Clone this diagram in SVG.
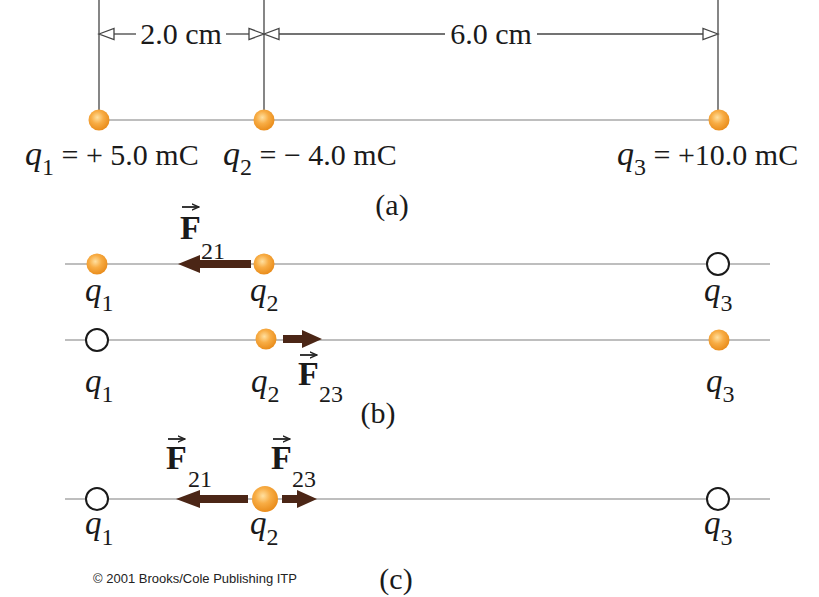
<svg xmlns="http://www.w3.org/2000/svg" width="819" height="597" viewBox="0 0 819 597">
<defs>
<radialGradient id="ball" cx="0.42" cy="0.38" r="0.65">
<stop offset="0" stop-color="#ffe0a0"/>
<stop offset="0.45" stop-color="#f8ad45"/>
<stop offset="1" stop-color="#e88a18"/>
</radialGradient>
<marker id="vec" viewBox="0 0 10 10" refX="9" refY="5" markerWidth="8" markerHeight="8" orient="auto" markerUnits="userSpaceOnUse">
<path d="M0,1 L9,5 L0,9" fill="none" stroke="#222" stroke-width="1.8"/>
</marker>
</defs>
<style>
.axis{stroke:#a8a8a8;stroke-width:1.6;fill:none}
.dim{stroke:#444;stroke-width:1.3;fill:none}
.tip{stroke:#444;stroke-width:1.3;fill:#fff}
.ball{fill:url(#ball)}
.open{fill:#fff;stroke:#1a1a1a;stroke-width:2}
.force{fill:#4b2616}
.t{font-family:"Liberation Serif","Times New Roman",serif;fill:#1a1a1a}
.q{font-style:italic}
.F{font-weight:bold}
.cr{font-family:"Liberation Sans",Arial,sans-serif;font-size:13px;fill:#222}
.vecl{stroke:#222;stroke-width:1.8;fill:none}
</style>

<g id="connectors">
<!-- part (a) -->
<line class="dim" x1="99" y1="0" x2="99" y2="118"/>
<line class="dim" x1="264" y1="0" x2="264" y2="118"/>
<line class="dim" x1="718" y1="0" x2="718" y2="118"/>
<line class="axis" x1="99" y1="120" x2="718" y2="120"/>
<line class="dim" x1="114" y1="34" x2="136" y2="34"/>
<line class="dim" x1="226" y1="34" x2="249" y2="34"/>
<line class="dim" x1="279" y1="34" x2="445" y2="34"/>
<line class="dim" x1="537" y1="34" x2="703" y2="34"/>
<polygon class="tip" points="99,34 114,28.5 114,39.5"/>
<polygon class="tip" points="264,34 249,28.5 249,39.5"/>
<polygon class="tip" points="264,34 279,28.5 279,39.5"/>
<polygon class="tip" points="718,34 703,28.5 703,39.5"/>
<!-- part (b) -->
<line class="axis" x1="65" y1="264" x2="770" y2="264"/>
<line class="axis" x1="65" y1="340" x2="770" y2="340"/>
<!-- part (c) -->
<line class="axis" x1="65" y1="499" x2="770" y2="499"/>
</g>

<g id="dim-labels">
<text class="t" x="181" y="44" font-size="30" text-anchor="middle">2.0 cm</text>
<text class="t" x="491" y="44" font-size="30" text-anchor="middle">6.0 cm</text>
</g>

<g id="a-q1">
<circle class="ball" cx="99" cy="120" r="10.5"/>
<text class="t" x="25" y="165" font-size="30"><tspan class="q" font-size="34">q</tspan><tspan font-size="24" dy="10">1</tspan><tspan dy="-10"> = + 5.0 mC</tspan></text>
</g>
<g id="a-q2">
<circle class="ball" cx="264" cy="120" r="10.5"/>
<text class="t" x="223" y="165" font-size="30"><tspan class="q" font-size="34">q</tspan><tspan font-size="24" dy="10">2</tspan><tspan dy="-10"> = − 4.0 mC</tspan></text>
</g>
<g id="a-q3">
<circle class="ball" cx="719" cy="120" r="10.5"/>
<text class="t" x="617" y="165" font-size="30"><tspan class="q" font-size="34">q</tspan><tspan font-size="24" dy="10">3</tspan><tspan dy="-10"> = +10.0 mC</tspan></text>
</g>
<text id="label-a" class="t" x="392" y="215" font-size="30" text-anchor="middle">(a)</text>

<!-- (b) row 1 -->
<g id="b1-q1">
<circle class="ball" cx="97" cy="264" r="10.5"/>
<text class="t" x="85" y="301"><tspan class="q" font-size="33">q</tspan><tspan font-size="24" dy="10">1</tspan></text>
</g>
<g id="b1-q2">
<circle class="ball" cx="264" cy="264" r="10.5"/>
<text class="t" x="250" y="301"><tspan class="q" font-size="33">q</tspan><tspan font-size="24" dy="10">2</tspan></text>
</g>
<g id="b1-q3">
<circle class="open" cx="718" cy="264" r="11"/>
<text class="t" x="704" y="301"><tspan class="q" font-size="33">q</tspan><tspan font-size="24" dy="10">3</tspan></text>
</g>
<g id="b1-F21">
<polygon class="force" points="178,264 200,255 200,260 251,260 251,268 200,268 200,273"/>
<line class="vecl" x1="182" y1="207" x2="199" y2="207" marker-end="url(#vec)"/>
<text class="t F" x="180" y="239" font-size="34">F</text>
<text class="t" x="201" y="259" font-size="24">21</text>
</g>

<!-- (b) row 2 -->
<g id="b2-q1">
<circle class="open" cx="97" cy="340" r="11"/>
<text class="t" x="85" y="392"><tspan class="q" font-size="33">q</tspan><tspan font-size="24" dy="10">1</tspan></text>
</g>
<g id="b2-q2">
<circle class="ball" cx="266" cy="339" r="10.5"/>
<text class="t" x="251" y="392"><tspan class="q" font-size="33">q</tspan><tspan font-size="24" dy="10">2</tspan></text>
</g>
<g id="b2-q3">
<circle class="ball" cx="719" cy="340" r="10.5"/>
<text class="t" x="706" y="392"><tspan class="q" font-size="33">q</tspan><tspan font-size="24" dy="10">3</tspan></text>
</g>
<g id="b2-F23">
<polygon class="force" points="322,339 302,330 302,335 283,335 283,343 302,343 302,348"/>
<line class="vecl" x1="300" y1="355" x2="317" y2="355" marker-end="url(#vec)"/>
<text class="t F" x="298" y="385" font-size="34">F</text>
<text class="t" x="319" y="402" font-size="24">23</text>
</g>
<text id="label-b" class="t" x="378" y="423" font-size="30" text-anchor="middle">(b)</text>

<!-- (c) -->
<g id="c-q1">
<circle class="open" cx="97" cy="499" r="11"/>
<text class="t" x="85" y="534"><tspan class="q" font-size="33">q</tspan><tspan font-size="24" dy="11">1</tspan></text>
</g>
<g id="c-q2">
<circle class="ball" cx="265" cy="499" r="13"/>
<text class="t" x="250" y="534"><tspan class="q" font-size="33">q</tspan><tspan font-size="24" dy="11">2</tspan></text>
</g>
<g id="c-q3">
<circle class="open" cx="718" cy="499" r="11"/>
<text class="t" x="704" y="534"><tspan class="q" font-size="33">q</tspan><tspan font-size="24" dy="11">3</tspan></text>
</g>
<g id="c-F21">
<polygon class="force" points="176,499 200,490 200,495 248,495 248,503 200,503 200,508"/>
<line class="vecl" x1="168" y1="439" x2="185" y2="439" marker-end="url(#vec)"/>
<text class="t F" x="166" y="469" font-size="34">F</text>
<text class="t" x="188" y="487" font-size="24">21</text>
</g>
<g id="c-F23">
<polygon class="force" points="317,499 297,490 297,495 282,495 282,503 297,503 297,508"/>
<line class="vecl" x1="273" y1="439" x2="290" y2="439" marker-end="url(#vec)"/>
<text class="t F" x="271" y="469" font-size="34">F</text>
<text class="t" x="292" y="487" font-size="24">23</text>
</g>
<text id="label-c" class="t" x="396" y="589" font-size="30" text-anchor="middle">(c)</text>
<text id="copyright" class="cr" x="93" y="583">© 2001 Brooks/Cole Publishing ITP</text>
</svg>
